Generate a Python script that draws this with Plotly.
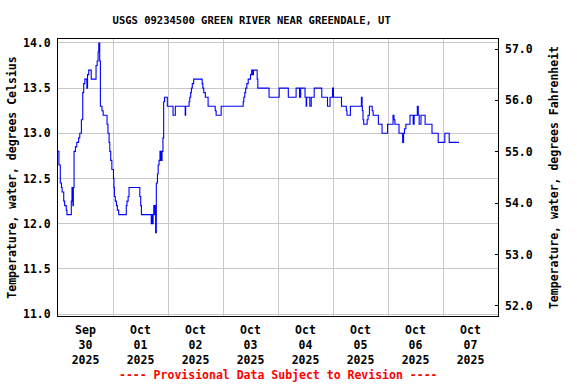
import pandas as pd
import plotly.graph_objects as go

# ---- data (hours since 2025-09-30 00:00, water temperature in deg C) ----
hours = [0.0, 0.4, 1.0, 1.5, 1.8, 2.5, 2.9, 3.6, 3.9, 5.8, 6.1, 6.5, 6.7, 7.0, 7.6, 8.2, 9.0, 9.5,
         10.2, 10.8, 11.2, 11.7, 12.6, 12.9, 13.4, 14.5, 16.6, 17.1, 17.5, 17.8, 18.2, 18.5, 19.2,
         19.7, 21.4, 21.8, 22.3, 22.6, 23.0, 23.5, 24.2, 24.4, 24.6, 25.0, 25.5, 25.9, 26.5, 29.8,
         30.1, 30.6, 31.0, 35.7, 36.1, 36.4, 40.7, 41.0, 41.2, 41.5, 41.8, 42.1, 42.3, 42.6, 42.9,
         43.4, 43.7, 44.1, 44.5, 44.8, 45.0, 45.2, 45.4, 45.8, 46.1, 46.5, 47.7, 50.2, 51.2, 55.5,
         55.7, 57.2, 57.5, 57.9, 58.2, 58.6, 59.2, 62.9, 63.2, 63.6, 64.3, 65.5, 68.6, 69.0, 71.2,
         80.8, 81.1, 81.5, 81.9, 82.4, 83.0, 84.0, 84.5, 85.0, 85.3, 86.9, 87.2, 92.1, 96.5, 100.5,
         103.9, 105.4, 105.9, 107.8, 108.3, 108.5, 109.9, 110.5, 111.8, 115.1, 117.6, 118.7, 119.8,
         120.2, 123.7, 125.8, 126.1, 127.6, 132.4, 132.7, 132.8, 133.1, 133.4, 134.9, 135.3, 135.9,
         137.1, 137.5, 139.8, 141.4, 143.8, 146.2, 146.6, 147.0, 148.8, 150.4, 150.8, 151.2, 151.8,
         153.6, 155.0, 155.4, 156.8, 157.2, 157.6, 158.4, 160.2, 163.2, 165.9, 168.8, 170.7, 175.0]
temps_c = [12.8, 12.65, 12.45, 12.4, 12.35, 12.25, 12.2, 12.15, 12.1, 12.25, 12.4, 12.2, 12.4, 12.8,
           12.85, 12.9, 12.95, 13.0, 13.15, 13.45, 13.55, 13.6, 13.5, 13.65, 13.7, 13.6, 13.75, 13.8,
           13.9, 14.0, 13.8, 13.3, 13.25, 13.2, 13.1, 13.0, 12.9, 12.8, 12.7, 12.6, 12.5, 12.4, 12.3,
           12.25, 12.2, 12.15, 12.1, 12.2, 12.25, 12.3, 12.4, 12.3, 12.2, 12.1, 12.0, 12.1, 12.0,
           12.1, 12.2, 12.1, 12.2, 11.9, 12.45, 12.55, 12.65, 12.7, 12.8, 12.7, 12.8, 12.7, 12.8,
           12.95, 13.35, 13.4, 13.3, 13.2, 13.3, 13.2, 13.3, 13.35, 13.4, 13.45, 13.5, 13.55, 13.6,
           13.55, 13.5, 13.45, 13.4, 13.3, 13.25, 13.2, 13.3, 13.35, 13.4, 13.45, 13.5, 13.55, 13.6,
           13.65, 13.7, 13.65, 13.7, 13.6, 13.5, 13.4, 13.5, 13.4, 13.5, 13.4, 13.5, 13.4, 13.3,
           13.4, 13.3, 13.4, 13.5, 13.4, 13.3, 13.4, 13.5, 13.4, 13.3, 13.25, 13.2, 13.3, 13.4, 13.3,
           13.25, 13.15, 13.1, 13.15, 13.2, 13.3, 13.25, 13.2, 13.1, 13.0, 13.1, 13.2, 13.15, 13.1,
           13.0, 12.9, 13.0, 13.05, 13.1, 13.2, 13.1, 13.2, 13.3, 13.2, 13.1, 13.2, 13.1, 13.0,
           12.9, 13.0, 12.9, 12.9]

day_starts = ["2025-09-30", "2025-10-01", "2025-10-02", "2025-10-03", "2025-10-04",
              "2025-10-05", "2025-10-06", "2025-10-07", "2025-10-08"]
day_labels = ["Sep<br>30<br>2025", "Oct<br>01<br>2025", "Oct<br>02<br>2025", "Oct<br>03<br>2025",
              "Oct<br>04<br>2025", "Oct<br>05<br>2025", "Oct<br>06<br>2025", "Oct<br>07<br>2025"]
left_ticks = [11.0, 11.5, 12.0, 12.5, 13.0, 13.5, 14.0]
right_ticks = [52.0, 53.0, 54.0, 55.0, 56.0, 57.0]

title_text = "USGS 09234500 GREEN RIVER NEAR GREENDALE, UT"
left_title = "Temperature, water, degrees Celsius"
right_title = "Temperature, water, degrees Fahrenheit"
note_text = "---- Provisional Data Subject to Revision ----"

# ---- build ----
start = pd.Timestamp(day_starts[0])
times = [start + pd.Timedelta(hours=h) for h in hours]
midnights = [pd.Timestamp(d) for d in day_starts]
noons = [pd.Timestamp(d) + pd.Timedelta(hours=12) for d in day_starts[:-1]]
xrange = [midnights[0], midnights[-1]]

FONT = "DejaVu Sans Mono"
GRID = "#c8c8c8"

fig = go.Figure()
fig.add_trace(go.Scatter(x=times, y=temps_c, mode="lines",
                         line=dict(color="#0000ff", width=1.1, shape="hv"),
                         showlegend=False, hoverinfo="skip"))
fig.add_trace(go.Scatter(x=[times[0]], y=[None], xaxis="x2", yaxis="y2", mode="lines",
                         showlegend=False, hoverinfo="skip"))

fig.update_layout(
    width=576, height=384,
    margin=dict(l=58, r=78, t=39, b=68, autoexpand=False),
    paper_bgcolor="white", plot_bgcolor="white",
    font=dict(family=FONT, size=11.5, color="black", weight="bold"),
    title=dict(text=title_text, x=251.7 / 576, xanchor="center", xref="container",
               y=1 - 20.7 / 384, yanchor="middle", yref="container",
               font=dict(family=FONT, size=10.5, color="black", weight="bold")),
    xaxis=dict(type="date", range=xrange, tickmode="array", tickvals=midnights,
               showticklabels=False, automargin=False,
               showgrid=True, gridcolor=GRID, gridwidth=1, zeroline=False,
               showline=True, linecolor="black", linewidth=1, mirror=True, ticks=""),
    xaxis2=dict(type="date", overlaying="x", side="bottom", anchor="y2", range=xrange,
                tickmode="array", automargin=False,
                tickvals=noons, ticktext=day_labels, showgrid=False, zeroline=False,
                showline=False, ticks="outside", ticklen=3, tickcolor="rgba(0,0,0,0)",
                tickfont=dict(family=FONT, size=11.5, color="black", weight="bold")),
    yaxis=dict(range=[10.978, 14.044], tickmode="array", tickvals=left_ticks, automargin=False,
               tickformat=".1f", showgrid=True, gridcolor=GRID, gridwidth=1, zeroline=False,
               showline=True, linecolor="black", linewidth=1, mirror=True,
               ticks="outside", ticklen=4, tickcolor="rgba(0,0,0,0)",
               title=dict(text=left_title, standoff=3,
                          font=dict(family=FONT, size=11.5, color="black", weight="bold")),
               tickfont=dict(family=FONT, size=11.5, color="black", weight="bold")),
    yaxis2=dict(overlaying="y", side="right", anchor="x2", range=[51.805, 57.195],
                tickmode="array", tickvals=right_ticks, tickformat=".1f", automargin=False,
                showgrid=False, zeroline=False, showline=False,
                ticks="inside", ticklen=3, tickcolor="black", ticklabelstandoff=6,
                title=dict(text=right_title, standoff=18,
                           font=dict(family=FONT, size=11.5, color="black", weight="bold")),
                tickfont=dict(family=FONT, size=11.5, color="black", weight="bold")),
    annotations=[dict(text=note_text, xref="paper", yref="paper", x=0.5, y=-(375 - 316) / 277,
                      xanchor="center", yanchor="middle", showarrow=False,
                      font=dict(family=FONT, size=11.5, color="#ff0000", weight="bold"))],
)

fig.write_html("out.html")
